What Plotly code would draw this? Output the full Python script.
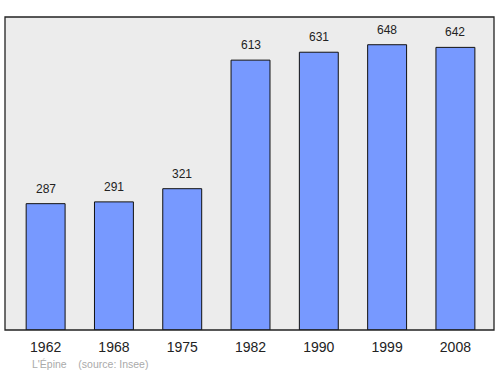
import plotly.graph_objects as go

years = ["1962", "1968", "1975", "1982", "1990", "1999", "2008"]
population = [287, 291, 321, 613, 631, 648, 642]

fig = go.Figure()
fig.add_trace(go.Bar(
    x=years, y=population, width=0.57,
    marker=dict(color="#7799ff", line=dict(color="#111111", width=1)),
    hoverinfo="skip",
))

for i, v in enumerate(population):
    fig.add_annotation(x=i, y=v, text=str(v), showarrow=False, yshift=15,
                       font=dict(family="Liberation Sans, Arial", size=12, color="#222222"))

fig.add_shape(type="rect", xref="paper", yref="paper", x0=0, x1=1, y0=0, y1=1,
              line=dict(color="#222222", width=1.3), layer="above")

fig.add_annotation(xref="paper", yref="paper", x=0.051, y=-0.083, xanchor="left", yanchor="top",
                   text="L'Épine    (source: Insee)", showarrow=False,
                   font=dict(family="Liberation Sans, Arial", size=10.5, color="#aaaaaa"))

fig.update_layout(
    width=500, height=374,
    margin=dict(l=5, r=6, t=17, b=44),
    paper_bgcolor="white", plot_bgcolor="#ececec",
    showlegend=False,
    xaxis=dict(type="category", range=[-0.595, 6.565], showgrid=False,
               ticks="outside", ticklen=4, tickcolor="rgba(0,0,0,0)",
               tickfont=dict(family="Liberation Sans, Arial", size=14, color="#222222")),
    yaxis=dict(range=[0, 711], showgrid=False, showticklabels=False, zeroline=False),
    font=dict(family="Liberation Sans, Arial"),
)

fig.write_html("out.html")
